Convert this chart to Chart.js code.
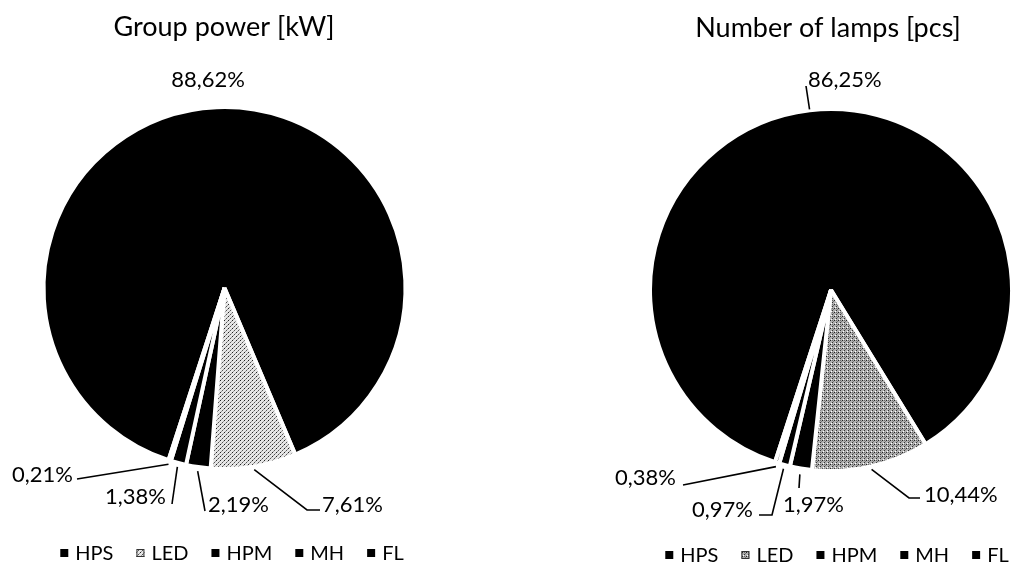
<!DOCTYPE html>
<html><head><meta charset="utf-8">
<script src="https://cdn.jsdelivr.net/npm/chart.js@4.4.1/dist/chart.umd.min.js"></script>
<style>
html,body{margin:0;padding:0;background:#fff;overflow:hidden;}
#wrap{position:relative;width:1012px;height:563px;}
.c{position:absolute;top:0;width:506px;height:563px;}
</style></head><body>
<div id="wrap">
<div class="c" style="left:0"><canvas id="c1" width="506" height="563"></canvas></div>
<div class="c" style="left:506px"><canvas id="c2" width="506" height="563"></canvas></div>
</div>
<script>
// ---- data ----
const categories = ['HPS', 'LED', 'HPM', 'MH', 'FL'];
const groupPowerShare = [88.62, 7.61, 2.19, 1.38, 0.21];
const lampCountShare = [86.25, 10.44, 1.97, 0.97, 0.38];
const chartTitles = ['Group power [kW]', 'Number of lamps [pcs]'];

const FONT = 'Lato, "Noto Sans", sans-serif';

function makePattern(base, dots) {
  const p = document.createElement('canvas');
  p.width = 4; p.height = 4;
  const g = p.getContext('2d');
  g.fillStyle = base; g.fillRect(0, 0, 4, 4);
  dots.forEach(d => { g.fillStyle = d[2]; g.fillRect(d[0], d[1], 1, 1); });
  return g.createPattern(p, 'repeat');
}
const ledLight = makePattern('#e6e6e6', [[0,0,'#222'],[2,2,'#555'],[1,3,'#999'],[3,1,'#999']]);
const ledMid = makePattern('#b0b0b0', [[0,0,'#222'],[2,2,'#333'],[1,3,'#fff'],[3,1,'#777'],[2,0,'#666']]);

function fmt(v) { return v.toFixed(2).replace('.', ',') + '%'; }

const annotPlugin = {
  id: 'annot',
  afterDraw(chart, args, o) {
    const ctx = chart.ctx;
    const meta = chart.getDatasetMeta(0);
    const data = chart.data.datasets[0].data;
    ctx.save();
    // title
    ctx.fillStyle = '#000';
    ctx.font = o.titleSize + 'px ' + FONT;
    ctx.textAlign = 'center'; ctx.textBaseline = 'middle';
    ctx.fillText(o.title, o.titleX, o.titleY);
    // labels with leader lines
    ctx.font = o.labelSize + 'px ' + FONT;
    ctx.strokeStyle = '#000'; ctx.lineWidth = 1.6;
    o.labels.forEach(l => {
      const arc = meta.data[l.i];
      const p = arc.getProps(['x', 'y', 'startAngle', 'endAngle', 'outerRadius'], true);
      const mid = (p.startAngle + p.endAngle) / 2;
      const r = p.outerRadius + (l.gap || 3);
      const ax = p.x + Math.cos(mid) * r, ay = p.y + Math.sin(mid) * r;
      if (l.path) {
        ctx.beginPath();
        ctx.moveTo(l.path[0][0], l.path[0][1]);
        for (let k = 1; k < l.path.length; k++) ctx.lineTo(l.path[k][0], l.path[k][1]);
        ctx.lineTo(ax, ay);
        ctx.stroke();
      }
      ctx.textAlign = l.align;
      ctx.fillText(fmt(data[l.i]), l.x, l.y);
    });
    // legend
    ctx.font = o.legendSize + 'px ' + FONT;
    ctx.textAlign = 'left';
    const box = 8, gap = 7, spacing = 23;
    const widths = categories.map(c => ctx.measureText(c).width);
    const total = widths.reduce((a, w) => a + box + gap + w, 0) + spacing * (categories.length - 1);
    let x = o.legendCx - total / 2;
    const bg = chart.data.datasets[0].backgroundColor;
    categories.forEach((c, i) => {
      ctx.fillStyle = bg[i];
      ctx.fillRect(x, o.legendY - box / 2, box, box);
      if (i === 1) { ctx.lineWidth = 1; ctx.strokeStyle = '#333'; ctx.strokeRect(x + 0.5, o.legendY - box / 2 + 0.5, box - 1, box - 1); }
      ctx.fillStyle = '#000';
      ctx.fillText(c, x + box + gap, o.legendY + 1);
      x += box + gap + widths[i] + spacing;
    });
    ctx.restore();
  }
};

function makeChart(id, values, ledFill, pad, annot) {
  return new Chart(document.getElementById(id), {
    type: 'pie',
    data: {
      labels: categories,
      datasets: [{
        data: values,
        backgroundColor: ['#000000', ledFill, '#000000', '#000000', '#000000'],
        borderColor: '#ffffff',
        borderWidth: 4,
        hoverOffset: 0,
        clip: false
      }]
    },
    options: {
      responsive: false,
      animation: false,
      rotation: 198,
      radius: 181,
      layout: { padding: pad },
      plugins: { legend: { display: false }, tooltip: { enabled: false }, title: { display: false }, annot: annot }
    },
    plugins: [annotPlugin]
  });
}

makeChart('c1', groupPowerShare, ledLight,
  { left: 74.5, right: 131.5, top: 138, bottom: 125 },
  {
    title: chartTitles[0], titleX: 224, titleY: 27, titleSize: 27, labelSize: 22, legendSize: 20,
    legendCx: 232, legendY: 553,
    labels: [
      { i: 0, x: 208, y: 80, align: 'center' },
      { i: 1, x: 322, y: 505, align: 'left', path: [[320, 510], [307, 510]], gap: 3 },
      { i: 2, x: 208, y: 505, align: 'left', path: [[205, 511]], gap: 4 },
      { i: 3, x: 166, y: 497, align: 'right', path: [[172, 504]], gap: 4 },
      { i: 4, x: 73, y: 475, align: 'right', path: [[77, 479]], gap: 4 }
    ]
  });

makeChart('c2', lampCountShare, ledMid,
  { left: 175, right: 31, top: 140, bottom: 123 },
  {
    title: chartTitles[1], titleX: 322, titleY: 28, titleSize: 27, labelSize: 22, legendSize: 20,
    legendCx: 331, legendY: 555,
    labels: [
      { i: 0, x: 302, y: 80, align: 'left', path: [[300, 86]], gap: 1 },
      { i: 1, x: 418, y: 495, align: 'left', path: [[414, 498], [403, 498]], gap: 3 },
      { i: 2, x: 277, y: 505, align: 'left', path: [[293, 488]], gap: 6 },
      { i: 3, x: 247, y: 510, align: 'right', path: [[253, 515], [266, 515]], gap: 4 },
      { i: 4, x: 170, y: 478, align: 'right', path: [[177, 485]], gap: 4 }
    ]
  });
</script>
</body></html>
